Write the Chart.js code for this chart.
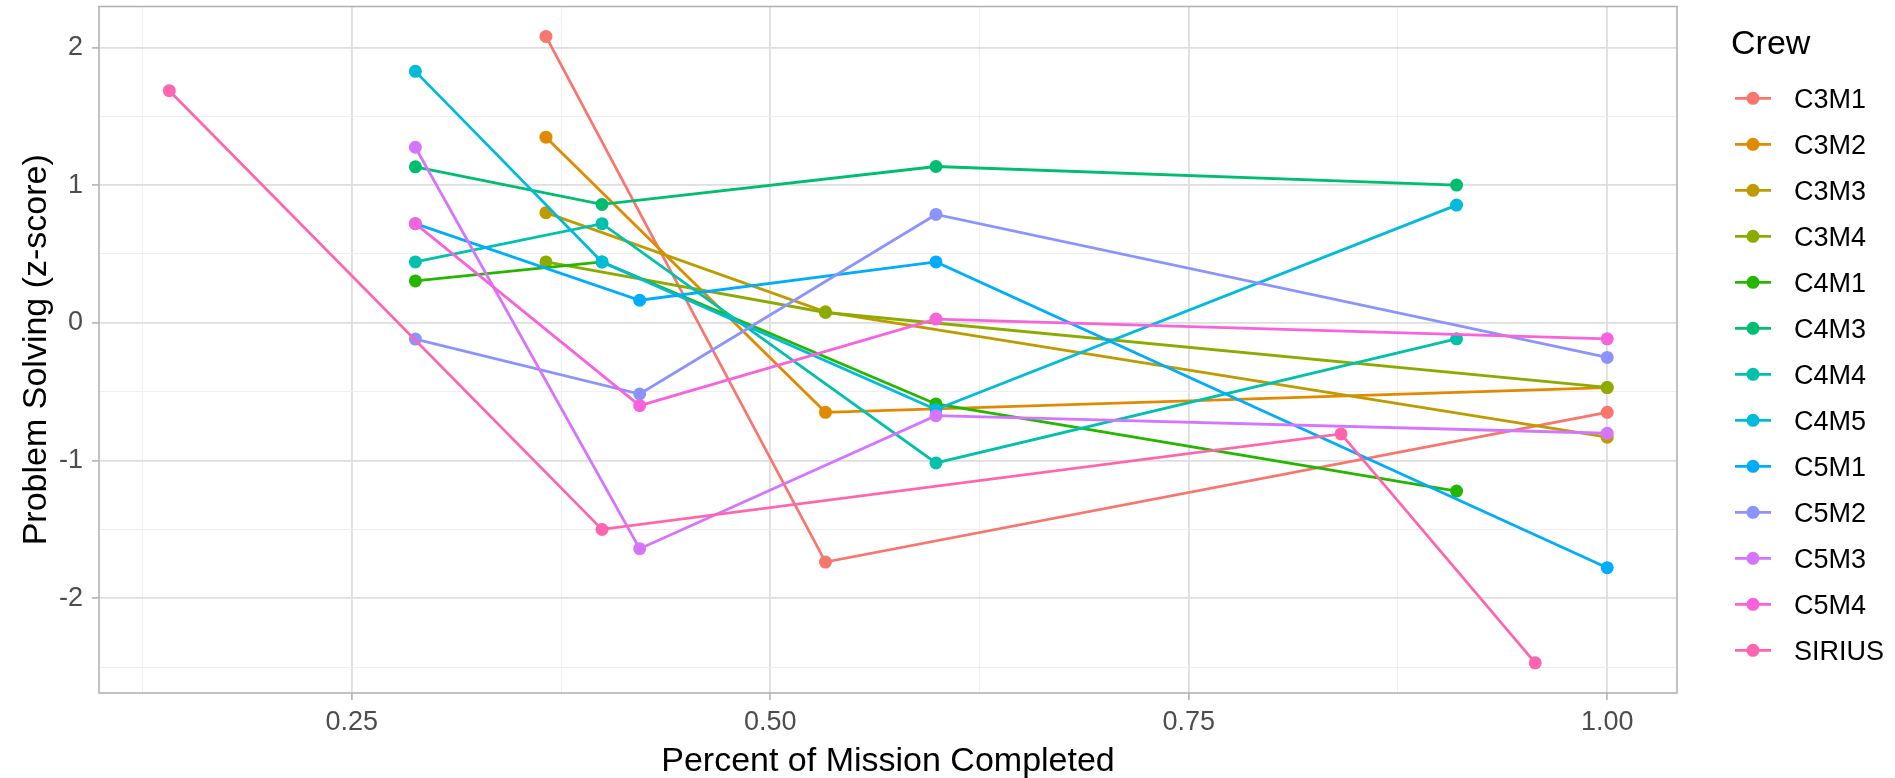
<!DOCTYPE html>
<html>
<head>
<meta charset="utf-8">
<title>Problem Solving by Crew</title>
<script src="https://cdn.jsdelivr.net/npm/chart.js@4.4.1/dist/chart.umd.min.js"></script>
<style>
  html, body { margin: 0; padding: 0; background: #ffffff; }
  #wrap { position: relative; width: 1895px; height: 778px; }
</style>
</head>
<body>
<div id="wrap"><canvas id="chart"></canvas></div>
<script>
const FONT = "'Liberation Sans', Arial, Helvetica, sans-serif";

// percent of mission completed, shared by the members of each crew
const pctC3 = [0.366, 0.533, 1.0];
const pctC4 = [0.288, 0.3995, 0.599, 0.91];
const pctC5 = [0.288, 0.422, 0.599, 1.0];
const pctSirius = [0.141, 0.3995, 0.841, 0.957];

// problem solving z-scores
const zC3M1 = [2.08, -1.737, -0.65];
const zC3M2 = [1.348, -0.65, -0.47];
const zC3M3 = [0.8, 0.08, -0.83];
const zC3M4 = [0.442, 0.075, -0.469];
const zC4M1 = [0.304, 0.442, -0.589, -1.222];
const zC4M3 = [1.133, 0.86, 1.135, 1.0];
const zC4M4 = [0.442, 0.72, -1.017, -0.116];
const zC4M5 = [1.826, 0.442, -0.63, 0.855];
const zC5M1 = [0.72, 0.164, 0.442, -1.778];
const zC5M2 = [-0.118, -0.517, 0.787, -0.251];
const zC5M3 = [1.275, -1.64, -0.674, -0.802];
const zC5M4 = [0.72, -0.601, 0.027, -0.116];
const zSirius = [1.686, -1.5, -0.807, -2.469];

const crewNames = ["C3M1", "C3M2", "C3M3", "C3M4", "C4M1", "C4M3", "C4M4", "C4M5", "C5M1", "C5M2", "C5M3", "C5M4", "SIRIUS"];
const crewPct = [pctC3, pctC3, pctC3, pctC3, pctC4, pctC4, pctC4, pctC4, pctC5, pctC5, pctC5, pctC5, pctSirius];
const crewScores = [zC3M1, zC3M2, zC3M3, zC3M4, zC4M1, zC4M3, zC4M4, zC4M5, zC5M1, zC5M2, zC5M3, zC5M4, zSirius];
const crewColors = ["#F8766D", "#E18A00", "#BE9C00", "#8CAB00", "#24B700", "#00BE70", "#00C1AB", "#00BBDA", "#00ACFC", "#8B93FF", "#D575FE", "#F962DD", "#FF65AC"];

// axis ticks (blank label = minor grid line)
const xTickValues = [0.125, 0.25, 0.375, 0.5, 0.625, 0.75, 0.875, 1.0];
const xTickLabels = ["", "0.25", "", "0.50", "", "0.75", "", "1.00"];
const yTickValues = [-2.5, -2, -1.5, -1, -0.5, 0, 0.5, 1, 1.5, 2];
const yTickLabels = ["", "-2", "", "-1", "", "0", "", "1", "", "2"];

function isMinor(labels, index) {
  return labels[index] === "";
}

function noPadding(scale) {
  scale.paddingTop = 0;
  scale.paddingBottom = 0;
  scale.paddingLeft = 0;
  scale.paddingRight = 0;
}

const datasets = crewNames.map((name, i) => ({
  label: name,
  data: crewPct[i].map((x, j) => ({ x: x, y: crewScores[i][j] })),
  borderColor: crewColors[i],
  backgroundColor: crewColors[i],
  pointBackgroundColor: crewColors[i],
  pointBorderWidth: 0,
  pointRadius: 6.5,
  borderWidth: 2.8,
  tension: 0,
  order: -i,
}));

const panelBorder = {
  id: "panelBorder",
  afterDatasetsDraw(chart) {
    const a = chart.chartArea;
    const ctx = chart.ctx;
    ctx.save();
    ctx.strokeStyle = "#B3B3B3";
    ctx.lineWidth = 1.6;
    ctx.strokeRect(a.left, a.top, a.right - a.left, a.bottom - a.top);
    ctx.restore();
  },
};

const crewLegend = {
  id: "crewLegend",
  afterDraw(chart) {
    const ctx = chart.ctx;
    ctx.save();
    ctx.fillStyle = "#000000";
    ctx.textBaseline = "alphabetic";
    ctx.textAlign = "left";
    ctx.font = `34px ${FONT}`;
    ctx.fillText("Crew", 1731, 54);
    ctx.font = `27px ${FONT}`;
    chart.data.datasets.forEach((ds, i) => {
      const cy = 98.3 + 46 * i;
      ctx.strokeStyle = ds.borderColor;
      ctx.lineWidth = 2.8;
      ctx.beginPath();
      ctx.moveTo(1735, cy);
      ctx.lineTo(1771, cy);
      ctx.stroke();
      ctx.fillStyle = ds.borderColor;
      ctx.beginPath();
      ctx.arc(1753, cy, 6.5, 0, Math.PI * 2);
      ctx.fill();
      ctx.fillStyle = "#000000";
      ctx.fillText(ds.label, 1794, cy + 9.7);
    });
    ctx.restore();
  },
};

const chart = new Chart(document.getElementById("chart"), {
  type: "line",
  data: { datasets: datasets },
  plugins: [panelBorder, crewLegend],
  options: {
    responsive: true,
    maintainAspectRatio: false,
    animation: false,
    layout: { padding: { top: 5, right: 218, left: 0, bottom: 0 } },
    plugins: {
      legend: { display: false },
      tooltip: { enabled: false },
    },
    scales: {
      x: {
        type: "linear",
        min: 0.099,
        max: 1.0417,
        afterBuildTicks: (scale) => {
          scale.ticks = xTickValues.map((v) => ({ value: v }));
        },
        afterFit: (scale) => {
          scale.height = 85;
          noPadding(scale);
        },
        ticks: {
          autoSkip: false,
          maxRotation: 0,
          padding: 6,
          color: "#4D4D4D",
          font: { family: FONT, size: 27 },
          callback: (value, index) => xTickLabels[index],
        },
        grid: {
          color: (c) => (isMinor(xTickLabels, c.index) ? "#EFEFEF" : "#DEDEDE"),
          lineWidth: (c) => (isMinor(xTickLabels, c.index) ? 1 : 1.8),
          tickColor: (c) => (isMinor(xTickLabels, c.index) ? "rgba(0,0,0,0)" : "#B3B3B3"),
          tickLength: 7,
          tickWidth: 1.6,
        },
        border: { display: false },
        title: {
          display: true,
          text: "Percent of Mission Completed",
          color: "#000000",
          font: { family: FONT, size: 34 },
          padding: { top: 0, bottom: -4 },
        },
      },
      y: {
        type: "linear",
        min: -2.688,
        max: 2.297,
        afterBuildTicks: (scale) => {
          scale.ticks = yTickValues.map((v) => ({ value: v }));
        },
        afterFit: (scale) => {
          scale.width = 99;
          noPadding(scale);
        },
        ticks: {
          autoSkip: false,
          padding: 9,
          color: "#4D4D4D",
          font: { family: FONT, size: 27 },
          callback: (value, index) => yTickLabels[index],
        },
        grid: {
          color: (c) => (isMinor(yTickLabels, c.index) ? "#EFEFEF" : "#DEDEDE"),
          lineWidth: (c) => (isMinor(yTickLabels, c.index) ? 1 : 1.8),
          tickColor: (c) => (isMinor(yTickLabels, c.index) ? "rgba(0,0,0,0)" : "#B3B3B3"),
          tickLength: 7,
          tickWidth: 1.6,
        },
        border: { display: false },
        title: {
          display: true,
          text: "Problem Solving (z-score)",
          color: "#000000",
          font: { family: FONT, size: 34 },
          padding: { top: 16, bottom: 0 },
        },
      },
    },
  },
});
</script>
</body>
</html>
